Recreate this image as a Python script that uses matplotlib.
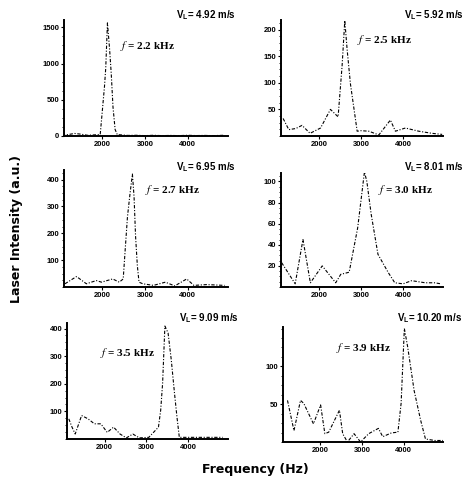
import numpy as np
import matplotlib
matplotlib.use("Agg")
import matplotlib.pyplot as plt
from matplotlib.ticker import AutoMinorLocator

plt.rcParams['mathtext.fontset'] = 'stix'

# data ------------------------------------------------------------------------
f1 = [1050, 1200, 1350, 1500, 1650, 1800, 1950, 2000, 2050, 2080, 2120, 2170,
      2210, 2250, 2300, 2350, 2450, 2600, 2800, 3000, 3200, 3400, 3600, 3800,
      4000, 4200, 4400, 4600, 4850]
a1 = [10, 20, 35, 25, 10, 15, 20, 350, 680, 940, 1560, 1200, 850, 400, 90, 20,
      15, 8, 10, 5, 10, 5, 8, 5, 10, 6, 8, 5, 10]

f2 = [1150, 1285, 1450, 1600, 1790, 2040, 2275, 2457, 2552, 2616, 2671, 2750,
      2910, 3000, 3187, 3425, 3700, 3819, 4056, 4374, 4690, 4930]
a2 = [33, 12, 14, 20, 5, 15, 50, 36, 132, 217, 163, 98, 9, 10, 9, 2, 30, 9,
      15, 9, 5, 3]

f3 = [1123, 1394, 1626, 1858, 1980, 2243, 2397, 2490, 2537, 2590, 2650, 2706,
      2745, 2780, 2822, 2861, 2950, 3200, 3480, 3700, 3980, 4150, 4450, 4870]
a3 = [12, 39, 12, 24, 18, 30, 18, 30, 140, 262, 348, 421, 335, 189, 79, 18,
      12, 6, 18, 4, 30, 6, 9, 6]

f4 = [1116, 1437, 1622, 1798, 2080, 2400, 2520, 2720, 2922, 3083, 3140, 3243,
      3404, 3644, 3804, 4000, 4205, 4526, 4750, 4900]
a4 = [23, 3, 45, 4, 20, 4, 12, 14, 56, 109, 100, 69, 31, 14, 4, 3, 6, 4, 4, 3]

f5 = [1143, 1220, 1296, 1449, 1603, 1755, 1908, 2062, 2214, 2368, 2520, 2674,
      2830, 3057, 3287, 3340, 3386, 3441, 3517, 3593, 3671, 3730, 3786, 4100,
      4500, 4820]
a5 = [73, 43, 18, 85, 73, 55, 55, 24, 43, 18, 4, 18, 4, 6, 43, 104, 201, 409,
      384, 287, 165, 79, 6, 6, 6, 6]

f6 = [1208, 1364, 1521, 1600, 1833, 2005, 2107, 2200, 2458, 2536, 2650, 2810,
      2966, 3162, 3396, 3500, 3708, 3865, 3942, 4020, 4099, 4255, 4411, 4528,
      4750, 4958]
a6 = [55, 15, 55, 51, 24, 49, 11, 13, 42, 11, 0, 11, 0, 11, 18, 7, 12, 13,
      51, 150, 126, 68, 29, 4, 2, 2]

speeds = ["4.92", "5.92", "6.95", "8.01", "9.09", "10.20"]
freqs = ["2.2", "2.5", "2.7", "3.0", "3.5", "3.9"]
ylims = [(0, 1600), (0, 218), (0, 436), (0, 108), (0, 420), (0, 152)]
yticks = [[0, 500, 1000, 1500], [50, 100, 150, 200], [100, 200, 300, 400],
          [20, 40, 60, 80, 100], [100, 200, 300, 400], [50, 100]]
xticks = [2000, 3000, 4000]

series = [(f1, a1), (f2, a2), (f3, a3), (f4, a4), (f5, a5), (f6, a6)]

# layout (pixels of a 464x480 canvas) -----------------------------------------
W, H = 464, 480
boxes = [(64, 20, 228, 136), (281, 20, 443, 136),
         (64, 170, 228, 287), (281, 173, 443, 287),
         (67, 323, 228, 439), (283, 327, 443, 442)]
vl_pos = [(176, 15), (404, 15), (176, 167), (404, 167), (179, 318), (397, 318)]
f_pos = [(120, 46), (357, 40), (145, 190), (378, 190), (100, 353), (336, 348)]

fig = plt.figure(figsize=(W/100, H/100), dpi=100)

for i, (fx, fy) in enumerate(series):
    x0, y0, x1, y1 = boxes[i]
    ax = fig.add_axes([x0/W, 1-y1/H, (x1-x0)/W, (y1-y0)/H])
    ax.plot(fx, fy, color='k', lw=0.8, ls=(0, (3, 1.5, 1, 1.5)))
    ax.set_xlim(1100, 4950)
    ax.set_ylim(*ylims[i])
    ax.set_xticks(xticks)
    ax.set_yticks(yticks[i])
    ax.yaxis.set_minor_locator(AutoMinorLocator(4))
    for s in ['top', 'right']:
        ax.spines[s].set_visible(False)
    for s in ['left', 'bottom']:
        ax.spines[s].set_linewidth(1.4)
    ax.tick_params(axis='both', labelsize=5.5, length=2, width=0.8, pad=1.5)
    ax.tick_params(axis='y', which='minor', length=1.2, width=0.6)
    for lab in ax.get_xticklabels() + ax.get_yticklabels():
        lab.set_fontweight('bold')
        lab.set_family('Liberation Sans')

    fig.text(vl_pos[i][0]/W, 1-vl_pos[i][1]/H,
             r"V$_\mathregular{L}$= " + speeds[i] + " m/s",
             fontsize=7, fontweight='bold', family='Liberation Sans',
             ha='left', va='center')
    fig.text(f_pos[i][0]/W, 1-f_pos[i][1]/H,
             r"$f$ = " + freqs[i] + " kHz",
             fontsize=8, fontweight='bold', family='Liberation Serif',
             ha='left', va='center')

fig.text(17/W, 1-229/H, "Laser Intensity (a.u.)", rotation=90,
         fontsize=9, fontweight='bold', family='DejaVu Sans',
         ha='center', va='center')
fig.text(255/W, 1-470/H, "Frequency (Hz)",
         fontsize=9, fontweight='bold', family='DejaVu Sans',
         ha='center', va='center')

fig.savefig("out.png", dpi=100)
